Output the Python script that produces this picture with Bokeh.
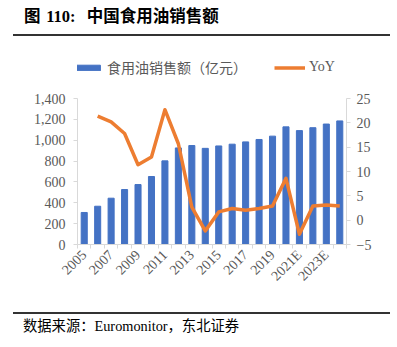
from math import pi
from bokeh.plotting import figure
from bokeh.models import (ColumnDataSource, Range1d, LinearAxis, FixedTicker,
                          NumeralTickFormatter, Legend, LegendItem, Div)
from bokeh.layouts import column
from bokeh.embed import file_html
from bokeh.resources import INLINE

# ---- data ----
years = ["2005", "2006", "2007", "2008", "2009", "2010", "2011", "2012", "2013", "2014",
         "2015", "2016", "2017", "2018", "2019", "2020", "2021E", "2022E", "2023E", "2024E"]
sales = [307, 367, 444, 527, 575, 652, 802, 926, 949, 922,
         945, 962, 984, 1007, 1039, 1128, 1092, 1120, 1155, 1185]
yoy_years = years[1:]
yoy = [21.4, 20.2, 17.8, 11.4, 13.0, 22.7, 15.7, 2.7, -2.2,
       1.7, 2.4, 2.05, 2.4, 2.9, 8.6, -2.9, 2.9, 3.1, 2.9]
left_ticks = [0, 200, 400, 600, 800, 1000, 1200, 1400]
right_ticks = [-5, 0, 5, 10, 15, 20, 25]
title_text = "图 110:  中国食用油销售额"
source_text = "数据来源：Euromonitor，东北证券"
bar_label = "食用油销售额（亿元）"
line_label = "YoY"

FONT = "Liberation Serif, Noto Sans CJK SC"
GRAY = "#595959"
AX = "#D9D9D9"
RULE = "#333333"

# layout geometry (page pixels)
FIG_TOP = 40
FIG_BOT = 312
FRAME_TOP = 50        # frame top (extra room for legend inside frame)
AXIS_TOP = 98         # where the top tick sits
AXIS_BOT = 244        # baseline
frame_h = AXIS_BOT - FRAME_TOP
axis_h = AXIS_BOT - AXIS_TOP
scale = frame_h / axis_h
left_top = left_ticks[0] + (left_ticks[-1] - left_ticks[0]) * scale
right_top = right_ticks[0] + (right_ticks[-1] - right_ticks[0]) * scale

bar_src = ColumnDataSource(dict(x=list(range(len(years))), y=sales))
line_src = ColumnDataSource(dict(x=[years.index(y) for y in yoy_years], y=yoy))

p = figure(width=397, height=FIG_BOT - FIG_TOP, output_backend="svg", toolbar_location=None,
           x_range=Range1d(-0.5, len(years) - 0.5),
           y_range=Range1d(left_ticks[0], left_top),
           min_border_left=77, min_border_right=51, min_border_top=FRAME_TOP - FIG_TOP,
           min_border_bottom=FIG_BOT - AXIS_BOT, x_axis_location=None, y_axis_location=None,
           margin=(0, 0, 0, 0))
p.outline_line_color = None
p.border_fill_color = None
p.background_fill_color = None
p.grid.grid_line_color = None
p.extra_y_ranges = {"yoy": Range1d(right_ticks[0], right_top)}

bars = p.vbar(x="x", top="y", width=0.45, source=bar_src, color="#4472C4")
line = p.line(x="x", y="y", source=line_src, y_range_name="yoy",
              line_color="#ED7D31", line_width=3.5, line_join="round")

def style_axis(ax):
    ax.axis_line_color = AX
    ax.major_tick_line_color = AX
    ax.minor_tick_line_color = AX
    ax.major_tick_in = 0
    ax.minor_tick_in = 0
    ax.major_tick_out = 4
    ax.minor_tick_out = 0
    ax.major_label_text_font = FONT
    ax.major_label_text_font_size = "14px"
    ax.major_label_text_color = GRAY

ly = LinearAxis(ticker=FixedTicker(ticks=left_ticks), formatter=NumeralTickFormatter(format="0,0"),
                bounds=(left_ticks[0], left_ticks[-1]))
style_axis(ly)
ly.major_label_standoff = 8
p.add_layout(ly, "left")

ry = LinearAxis(y_range_name="yoy", ticker=FixedTicker(ticks=right_ticks),
                bounds=(right_ticks[0], right_ticks[-1]))
style_axis(ry)
ry.major_label_standoff = 6
p.add_layout(ry, "right")

xb = LinearAxis(ticker=FixedTicker(ticks=list(range(0, len(years), 2)),
                                   minor_ticks=[i - 0.5 for i in range(len(years) + 1)]))
style_axis(xb)
xb.major_tick_out = 0
xb.minor_tick_out = 4
xb.major_label_orientation = pi / 4
xb.major_label_standoff = 4
xb.major_label_overrides = {i: years[i] for i in range(len(years))}
p.add_layout(xb, "below")

legend = Legend(items=[LegendItem(label=bar_label, renderers=[bars]),
                       LegendItem(label=line_label, renderers=[line])],
                orientation="horizontal", location=(-5, AXIS_BOT - 77),
                glyph_width=31, glyph_height=7, label_standoff=4, spacing=27,
                padding=0, margin=0, border_line_color=None,
                background_fill_alpha=0,
                label_text_font=FONT, label_text_font_size="14px",
                label_text_color=GRAY, label_height=16)
p.add_layout(legend, "center")

# rule under the title, drawn as short adjacent pieces
segs = "".join(
    f'<div style="position:absolute;left:{13 + i * 95}px;top:34px;width:{95 if i < 3 else 92}px;'
    f'height:2px;background:{RULE};"></div>' for i in range(4))

title_div = Div(width=397, height=FIG_TOP, margin=(0, 0, 0, 0), text=(
    f'<div style="position:relative;width:397px;height:{FIG_TOP}px;">'
    '<div style="position:absolute;left:24px;top:5px;white-space:pre;word-spacing:1.5px;'
    'font-family:\'Liberation Serif\',\'Noto Sans CJK SC\';font-weight:bold;'
    f'font-size:16.5px;color:#000;">{title_text}</div>'
    f'{segs}</div>'))

rule_bot = Div(width=377, height=2, margin=(0, 0, 0, 13), text="",
               styles={"background-color": RULE})

source_div = Div(width=397, height=347 - FIG_BOT - 2, margin=(0, 0, 0, 0), text=(
    '<div style="position:relative;width:397px;height:30px;">'
    '<div style="position:absolute;left:23px;top:2px;white-space:pre;'
    'font-family:\'Liberation Serif\',\'Noto Sans CJK SC\';'
    f'font-size:14.3px;color:#000;">{source_text}</div></div>'))

layout = column(title_div, p, rule_bot, source_div, spacing=0, margin=(0, 0, 0, 0))
open("out.html", "w").write(file_html(layout, INLINE))
